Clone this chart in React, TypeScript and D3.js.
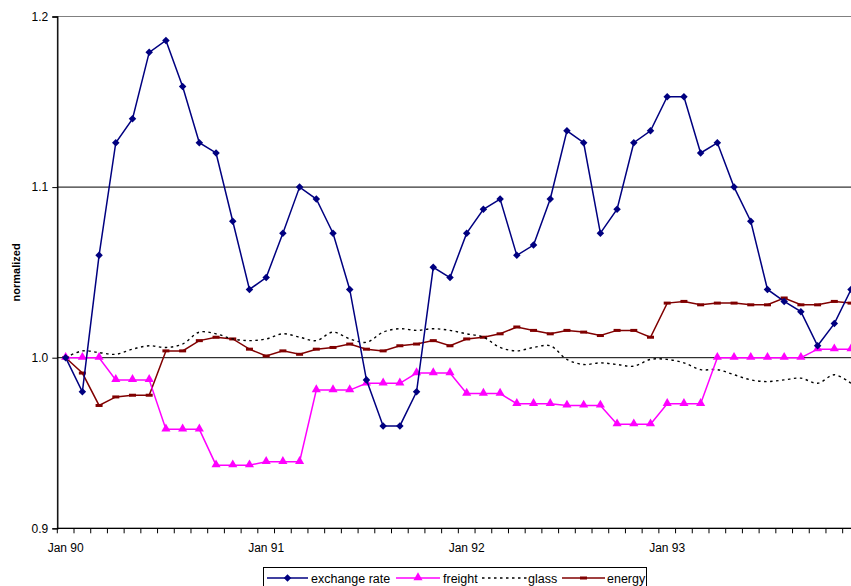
import React, { useEffect, useRef } from 'react';
import * as d3 from 'd3';

// categories: monthly, Jan 90 .. Dec 93
const monthNames = ['Jan', 'Feb', 'Mar', 'Apr', 'May', 'Jun', 'Jul', 'Aug', 'Sep', 'Oct', 'Nov', 'Dec'];
const years = ['90', '91', '92', '93'];
const categories = years.flatMap(y => monthNames.map(m => `${m} ${y}`));
const tickLabels = ['Jan 90', 'Jan 91', 'Jan 92', 'Jan 93'];
const yTicks = [0.9, 1.0, 1.1, 1.2];

const exchangeRate = [
  1.000, 0.980, 1.060, 1.126, 1.140, 1.179, 1.186, 1.159, 1.126, 1.120, 1.080, 1.040,
  1.047, 1.073, 1.100, 1.093, 1.073, 1.040, 0.987, 0.960, 0.960, 0.980, 1.053, 1.047,
  1.073, 1.087, 1.093, 1.060, 1.066, 1.093, 1.133, 1.126, 1.073, 1.087, 1.126, 1.133,
  1.153, 1.153, 1.120, 1.126, 1.100, 1.080, 1.040, 1.033, 1.027, 1.007, 1.020, 1.040,
];

const freight = [
  1.000, 1.000, 1.000, 0.987, 0.987, 0.987, 0.958, 0.958, 0.958, 0.937, 0.937, 0.937,
  0.939, 0.939, 0.939, 0.981, 0.981, 0.981, 0.985, 0.985, 0.985, 0.991, 0.991, 0.991,
  0.979, 0.979, 0.979, 0.973, 0.973, 0.973, 0.972, 0.972, 0.972, 0.961, 0.961, 0.961,
  0.973, 0.973, 0.973, 1.000, 1.000, 1.000, 1.000, 1.000, 1.000, 1.005, 1.005, 1.005,
];

const glass = [
  1.000, 1.004, 1.003, 1.002, 1.005, 1.007, 1.006, 1.008, 1.015, 1.014, 1.011, 1.010,
  1.011, 1.014, 1.012, 1.010, 1.015, 1.011, 1.009, 1.015, 1.017, 1.016, 1.017, 1.016,
  1.014, 1.012, 1.006, 1.004, 1.006, 1.007, 0.999, 0.996, 0.997, 0.996, 0.995, 0.999,
  0.999, 0.997, 0.993, 0.993, 0.990, 0.987, 0.986, 0.987, 0.988, 0.985, 0.990, 0.985,
];

const energy = [
  1.000, 0.991, 0.972, 0.977, 0.978, 0.978, 1.004, 1.004, 1.010, 1.012, 1.011, 1.005,
  1.001, 1.004, 1.002, 1.005, 1.006, 1.008, 1.005, 1.004, 1.007, 1.008, 1.010, 1.007,
  1.011, 1.012, 1.014, 1.018, 1.016, 1.014, 1.016, 1.015, 1.013, 1.016, 1.016, 1.012,
  1.032, 1.033, 1.031, 1.032, 1.032, 1.031, 1.031, 1.035, 1.031, 1.031, 1.033, 1.032,
];

const App: React.FC = () => {
  const svgRef = useRef<SVGSVGElement>(null);

  useEffect(() => {
    document.body.style.margin = '0';
    if (!svgRef.current) return;
    const svg = d3.select(svgRef.current);
    svg.selectAll('*').remove();

    const left = 57.3;
    const band = 16.71;
    const top = 16.5;
    const bottom = 528.3;
    const font = 'Arial, "Liberation Sans", sans-serif';

    const x = d3.scaleBand<string>()
      .domain(categories)
      .range([left, left + band * categories.length])
      .paddingInner(0)
      .paddingOuter(0);
    const cx = (i: number) => (x(categories[i]) || 0) + x.bandwidth() / 2;

    const y = d3.scaleLinear().domain([0.9, 1.2]).range([bottom, top]);
    const right = left + band * categories.length;

    // plot area border (grey)
    svg.append('rect')
      .attr('x', left).attr('y', y(1.2))
      .attr('width', right - left).attr('height', bottom - y(1.2))
      .attr('fill', 'none').attr('stroke', '#808080').attr('stroke-width', 1);

    // gridlines
    svg.append('g').selectAll('line')
      .data([1.0, 1.1])
      .enter().append('line')
      .attr('x1', left).attr('x2', right)
      .attr('y1', d => y(d)).attr('y2', d => y(d))
      .attr('stroke', '#000').attr('stroke-width', 1);

    // y axis
    const yAxis = svg.append('g')
      .attr('transform', `translate(${left},0)`)
      .call(d3.axisLeft(y).tickValues(yTicks).tickFormat(d3.format('.1f')).tickSize(5).tickPadding(4));
    yAxis.select('.domain').attr('stroke', '#000').attr('stroke-width', 1.3);
    yAxis.selectAll('.tick line').attr('stroke', '#000');
    yAxis.selectAll('.tick text').attr('font-family', font).attr('font-size', 12).attr('fill', '#000');

    // x axis: ticks on band boundaries
    const xg = svg.append('g');
    xg.append('line')
      .attr('x1', left).attr('x2', right)
      .attr('y1', bottom).attr('y2', bottom)
      .attr('stroke', '#000').attr('stroke-width', 1.3);
    xg.selectAll('line.tk')
      .data(categories)
      .enter().append('line')
      .attr('class', 'tk')
      .attr('x1', d => x(d) || 0).attr('x2', d => x(d) || 0)
      .attr('y1', bottom).attr('y2', bottom + 5)
      .attr('stroke', '#000');
    xg.selectAll('text')
      .data(tickLabels)
      .enter().append('text')
      .attr('x', d => (x(d) || 0) + x.bandwidth() / 2)
      .attr('y', bottom + 24)
      .attr('text-anchor', 'middle')
      .attr('font-family', font).attr('font-size', 12)
      .text(d => d);

    // y label
    svg.append('text')
      .attr('transform', `translate(20,${(top + bottom) / 2}) rotate(-90)`)
      .attr('text-anchor', 'middle')
      .attr('font-family', font).attr('font-size', 11).attr('font-weight', 'bold')
      .text('normalized');

    const line = d3.line<number>().x((_, i) => cx(i)).y(d => y(d));
    const smooth = d3.line<number>().x((_, i) => cx(i)).y(d => y(d)).curve(d3.curveCatmullRom.alpha(0.5));

    // energy
    svg.append('path').attr('d', line(energy)).attr('fill', 'none')
      .attr('stroke', '#800000').attr('stroke-width', 1.5);
    svg.append('g').selectAll('rect').data(energy).enter().append('rect')
      .attr('x', (_, i) => cx(i) - 3.5).attr('y', d => y(d) - 1.5)
      .attr('width', 7).attr('height', 3).attr('fill', '#800000');

    // glass
    svg.append('path').attr('d', smooth(glass)).attr('fill', 'none')
      .attr('stroke', '#000').attr('stroke-width', 1.4).attr('stroke-dasharray', '2.5,3.5');

    // freight
    svg.append('path').attr('d', line(freight)).attr('fill', 'none')
      .attr('stroke', '#FF00FF').attr('stroke-width', 1.5);
    const tri = d3.symbol().type(d3.symbolTriangle).size(36);
    svg.append('g').selectAll('path').data(freight).enter().append('path')
      .attr('d', tri as any)
      .attr('transform', (d, i) => `translate(${cx(i)},${y(d) - 0.5})`)
      .attr('fill', '#FF00FF');

    // exchange rate
    svg.append('path').attr('d', line(exchangeRate)).attr('fill', 'none')
      .attr('stroke', '#000080').attr('stroke-width', 1.5);
    const dia = d3.symbol().type(d3.symbolDiamond2).size(36);
    svg.append('g').selectAll('path').data(exchangeRate).enter().append('path')
      .attr('d', dia as any)
      .attr('transform', (d, i) => `translate(${cx(i)},${y(d)})`)
      .attr('fill', '#000080');

    // legend
    const lg = svg.append('g');
    lg.append('rect')
      .attr('x', 263.5).attr('y', 567.5).attr('width', 383).attr('height', 24)
      .attr('fill', '#fff').attr('stroke', '#000').attr('stroke-width', 1);
    const items = [
      { name: 'exchange rate', x0: 267, x1: 308, tx: 311, color: '#000080', kind: 'dia' },
      { name: 'freight', x0: 396, x1: 440, tx: 443, color: '#FF00FF', kind: 'tri' },
      { name: 'glass', x0: 482, x1: 527, tx: 528, color: '#000', kind: 'dot' },
      { name: 'energy', x0: 562, x1: 605, tx: 607, color: '#800000', kind: 'rect' },
    ];
    const ly = 578;
    items.forEach(it => {
      lg.append('line')
        .attr('x1', it.x0).attr('x2', it.x1).attr('y1', ly).attr('y2', ly)
        .attr('stroke', it.color).attr('stroke-width', 1.5)
        .attr('stroke-dasharray', it.kind === 'dot' ? '2.5,3.5' : null);
      const mx = (it.x0 + it.x1) / 2;
      if (it.kind === 'dia') {
        lg.append('path').attr('d', dia as any).attr('transform', `translate(${mx},${ly})`).attr('fill', it.color);
      } else if (it.kind === 'tri') {
        lg.append('path').attr('d', tri as any).attr('transform', `translate(${mx},${ly - 0.5})`).attr('fill', it.color);
      } else if (it.kind === 'rect') {
        lg.append('rect').attr('x', mx - 3.5).attr('y', ly - 1.5).attr('width', 7).attr('height', 3).attr('fill', it.color);
      }
      lg.append('text')
        .attr('x', it.tx).attr('y', ly + 4.5)
        .attr('font-family', font).attr('font-size', 12.5)
        .text(it.name);
    });
  }, []);

  return <svg ref={svgRef} width={851} height={586} style={{ display: 'block', background: '#fff' }} />;
};

export default App;
